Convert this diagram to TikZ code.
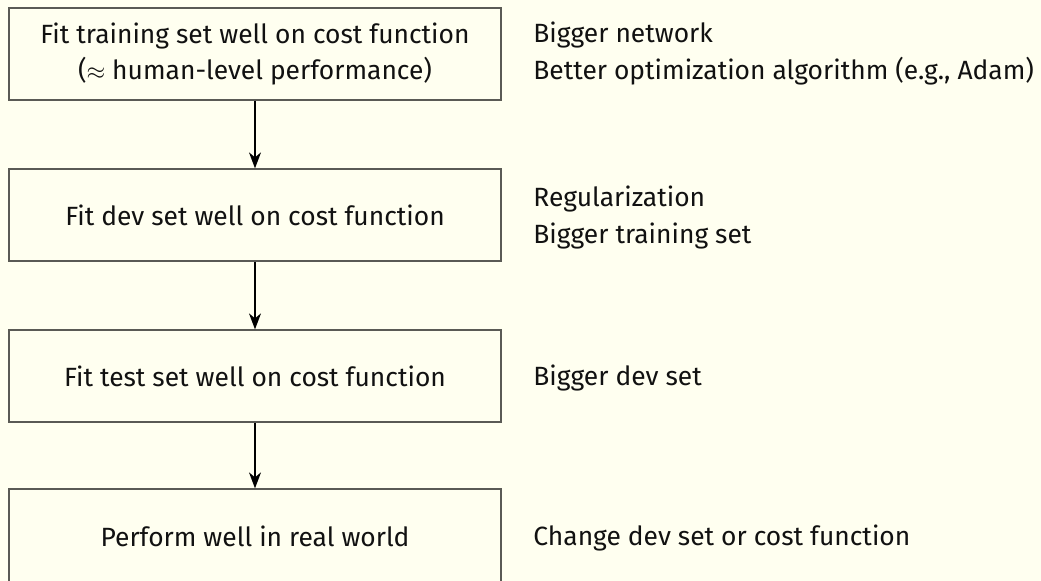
\documentclass[tikz,border=0pt]{standalone}
\usepackage{fontspec}
\setmainfont{Fira Sans}
\usetikzlibrary{arrows.meta}
\definecolor{bgc}{HTML}{FFFFF0}
\definecolor{boxc}{HTML}{5A5A55}
\definecolor{txt}{HTML}{111111}
\begin{document}
\begin{tikzpicture}[x=0.5pt,y=-0.5pt,
  stage/.style={draw=boxc,line width=0.6pt,minimum width=246pt,minimum height=46pt,
    align=center,inner sep=0pt,text=txt,font=\fontsize{13.2}{17.8}\selectfont},
  fix/.style={anchor=west,align=left,inner sep=0pt,text=txt,font=\fontsize{13.2}{18.5}\selectfont},
  flow/.style={-{Stealth[length=8pt,width=6pt,inset=2.5pt]},line width=0.8pt,black}]
\fill[bgc] (0,0) rectangle (1041,581);
\useasboundingbox (0,0) rectangle (1041,581);
\node[stage] (b1) at (255,54) {Fit training set well on cost function\\($\approx$ human-level performance)};
\node[stage] (b2) at (255,215) {Fit dev set well on cost function};
\node[stage] (b3) at (255,376) {Fit test set well on cost function};
\node[stage,minimum height=47pt] (b4) at (255,536) {Perform well in real world};
\draw[flow] (b1) -- (b2);
\draw[flow] (b2) -- (b3);
\draw[flow] (b3) -- (b4);
\node[fix] (r1) at (533,54) {Bigger network\\Better optimization algorithm (e.g., Adam)};
\node[fix] (r2) at (533,218) {Regularization\\Bigger training set};
\node[fix] (r3) at (533,378) {Bigger dev set};
\node[fix] (r4) at (533,538) {Change dev set or cost function};
\end{tikzpicture}
\end{document}
